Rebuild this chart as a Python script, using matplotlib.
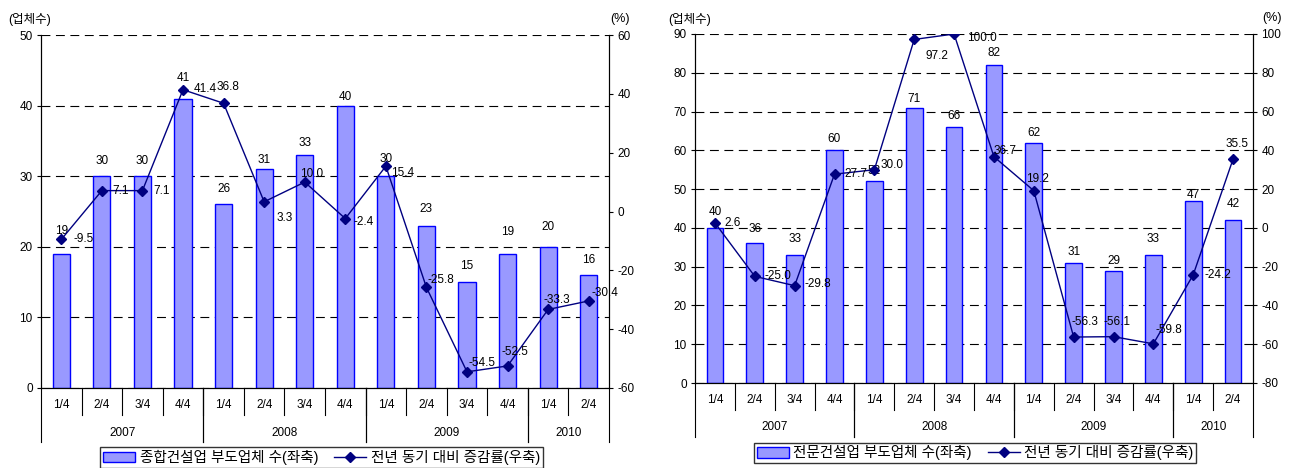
import matplotlib
matplotlib.use("Agg")
import matplotlib.pyplot as plt
from matplotlib.lines import Line2D
from matplotlib.patches import Patch
import numpy as np

plt.rcParams['font.family'] = ['Liberation Sans', 'Noto Sans CJK KR']
plt.rcParams['font.size'] = 8.5
plt.rcParams['axes.unicode_minus'] = False

# 분기/연도 축
quarters = ['1/4', '2/4', '3/4', '4/4'] * 3 + ['1/4', '2/4']
years = ['2007', '2008', '2009', '2010']
year_spans = [(0, 4), (4, 8), (8, 12), (12, 14)]

# 종합건설업
general_firms = [19, 30, 30, 41, 26, 31, 33, 40, 30, 23, 15, 19, 20, 16]
general_growth = [-9.5, 7.1, 7.1, 41.4, 36.8, 3.3, 10.0, -2.4, 15.4,
                  -25.8, -54.5, -52.5, -33.3, -30.4]

# 전문건설업
special_firms = [40, 36, 33, 60, 52, 71, 66, 82, 62, 31, 29, 33, 47, 42]
special_growth = [2.6, -25.0, -29.8, 27.7, 30.0, 97.2, 100.0, 36.7, 19.2,
                  -56.3, -56.1, -59.8, -24.2, 35.5]

general_name = '종합건설업 부도업체 수(좌축)'
special_name = '전문건설업 부도업체 수(좌축)'
growth_name = '전년 동기 대비 증감률(우축)'

BAR_FACE = '#9999FF'
BAR_EDGE = '#0000FF'
LINE_COLOR = '#000080'

# 라벨 위치 보정 (픽셀)
general_bar_dy = [23, 15, 15, 21, 15, 9, 12, 9, 17, 17, 16, 22, 20, 15]
general_line_dxy = [(12, 0), (11, 0), (11, 0), (11, -1), (-7, -16), (12, 16),
                    (-5, -8), (8, 3), (5, 7), (1, -7), (2, -9), (-6, -14),
                    (-5, -9), (3, -8)]
special_bar_dy = [16, 14, 16, 11, 10, 9, 11, 12, 10, 11, 10, 16, 6, 16]
special_line_dxy = [(10, 0), (10, 0), (10, -2), (10, 0), (6, -5), (11, 17),
                    (13, 4), (0, -6), (-8, -12), (-2, -15), (-10, -15),
                    (2, -14), (11, 0), (-8, -15)]

W, H = 1293, 468
fig = plt.figure(figsize=(W / 100, H / 100), dpi=100)


def px_rect(left, top, right, bottom):
    return [left / W, 1 - bottom / H, (right - left) / W, (bottom - top) / H]


def draw_panel(rect, firms, growth, left_max, left_step, right_lim,
               bar_dy, line_dxy, rows):
    ax = fig.add_axes(rect)
    x = np.arange(len(firms))
    ax.bar(x, firms, width=0.42, color=BAR_FACE, edgecolor=BAR_EDGE,
           linewidth=1, zorder=2)
    ax.set_xlim(-0.5, len(firms) - 0.5)
    ax.set_ylim(0, left_max)
    ax.set_yticks(np.arange(0, left_max + 1, left_step))
    ax.yaxis.grid(True, linestyle=(0, (8, 5)), color='black', linewidth=0.8)
    ax.set_axisbelow(True)
    ax.set_xticks([])
    ax.spines['top'].set_visible(False)
    ax.tick_params(axis='y', direction='out', length=3, pad=3)

    for xi, v, dy in zip(x, firms, bar_dy):
        ax.annotate(str(v), (xi, v), xytext=(0, dy), textcoords='offset pixels',
                    ha='center', va='center')

    ax2 = ax.twinx()
    ax2.plot(x, growth, color=LINE_COLOR, marker='D', markersize=4.8,
             linewidth=1, zorder=3)
    ax2.set_ylim(*right_lim)
    ax2.set_yticks(np.arange(right_lim[0], right_lim[1] + 1, 20))
    ax2.spines['top'].set_visible(False)
    ax2.tick_params(axis='y', direction='out', length=3, pad=3)
    for xi, v, (dx, dy) in zip(x, growth, line_dxy):
        ax2.annotate(f'{v:.1f}', (xi, v), xytext=(dx, -dy),
                     textcoords='offset pixels', ha='left', va='center')

    # 2단 카테고리 축
    trans = ax.get_xaxis_transform()
    q_y, short_y, yr_y, long_y = rows
    for i, q in enumerate(quarters):
        ax.text(i, q_y, q, transform=trans, ha='center', va='center')
    for b in range(1, len(firms)):
        ax.plot([b - 0.5, b - 0.5], [0, short_y], transform=trans,
                color='black', linewidth=0.8, clip_on=False)
    for (s, e), yr in zip(year_spans, years):
        ax.text((s + e - 1) / 2, yr_y, yr, transform=trans,
                ha='center', va='center')
        for b in (s - 0.5, e - 0.5):
            ax.plot([b, b], [0, long_y], transform=trans,
                    color='black', linewidth=0.8, clip_on=False)
    return ax, ax2


def add_legend(bar_name, anchor):
    handles = [Patch(facecolor=BAR_FACE, edgecolor=BAR_EDGE, linewidth=1),
               Line2D([], [], color=LINE_COLOR, marker='D', markersize=4.8,
                      linewidth=1)]
    leg = fig.legend(handles, [bar_name, growth_name], loc='center',
                     bbox_to_anchor=anchor, ncol=2, frameon=True,
                     fancybox=False, edgecolor='black', fontsize=10.5,
                     handlelength=2.2, handleheight=0.75, columnspacing=1.1,
                     borderpad=0.2, handletextpad=0.3, borderaxespad=0)
    leg.get_frame().set_linewidth(1)


draw_panel(px_rect(41, 35, 609, 388), general_firms, general_growth,
           50, 10, (-60, 60), general_bar_dy, general_line_dxy,
           (-0.048, -0.0765, -0.1275, -0.153))
draw_panel(px_rect(695, 34, 1253, 383), special_firms, special_growth,
           90, 10, (-80, 100), special_bar_dy, special_line_dxy,
           (-0.0487, -0.077, -0.125, -0.154))

fig.text(8 / W, 1 - 19 / H, '(업체수)', ha='left', va='center', fontsize=9)
fig.text(620 / W, 1 - 19 / H, '(%)', ha='center', va='center', fontsize=9)
fig.text(668 / W, 1 - 19 / H, '(업체수)', ha='left', va='center', fontsize=9)
fig.text(1272 / W, 1 - 18 / H, '(%)', ha='center', va='center', fontsize=9)

add_legend(general_name, (321.5 / W, 1 - 457.5 / H))
add_legend(special_name, (975 / W, 1 - 453 / H))

fig.savefig('out.png', dpi=100)
